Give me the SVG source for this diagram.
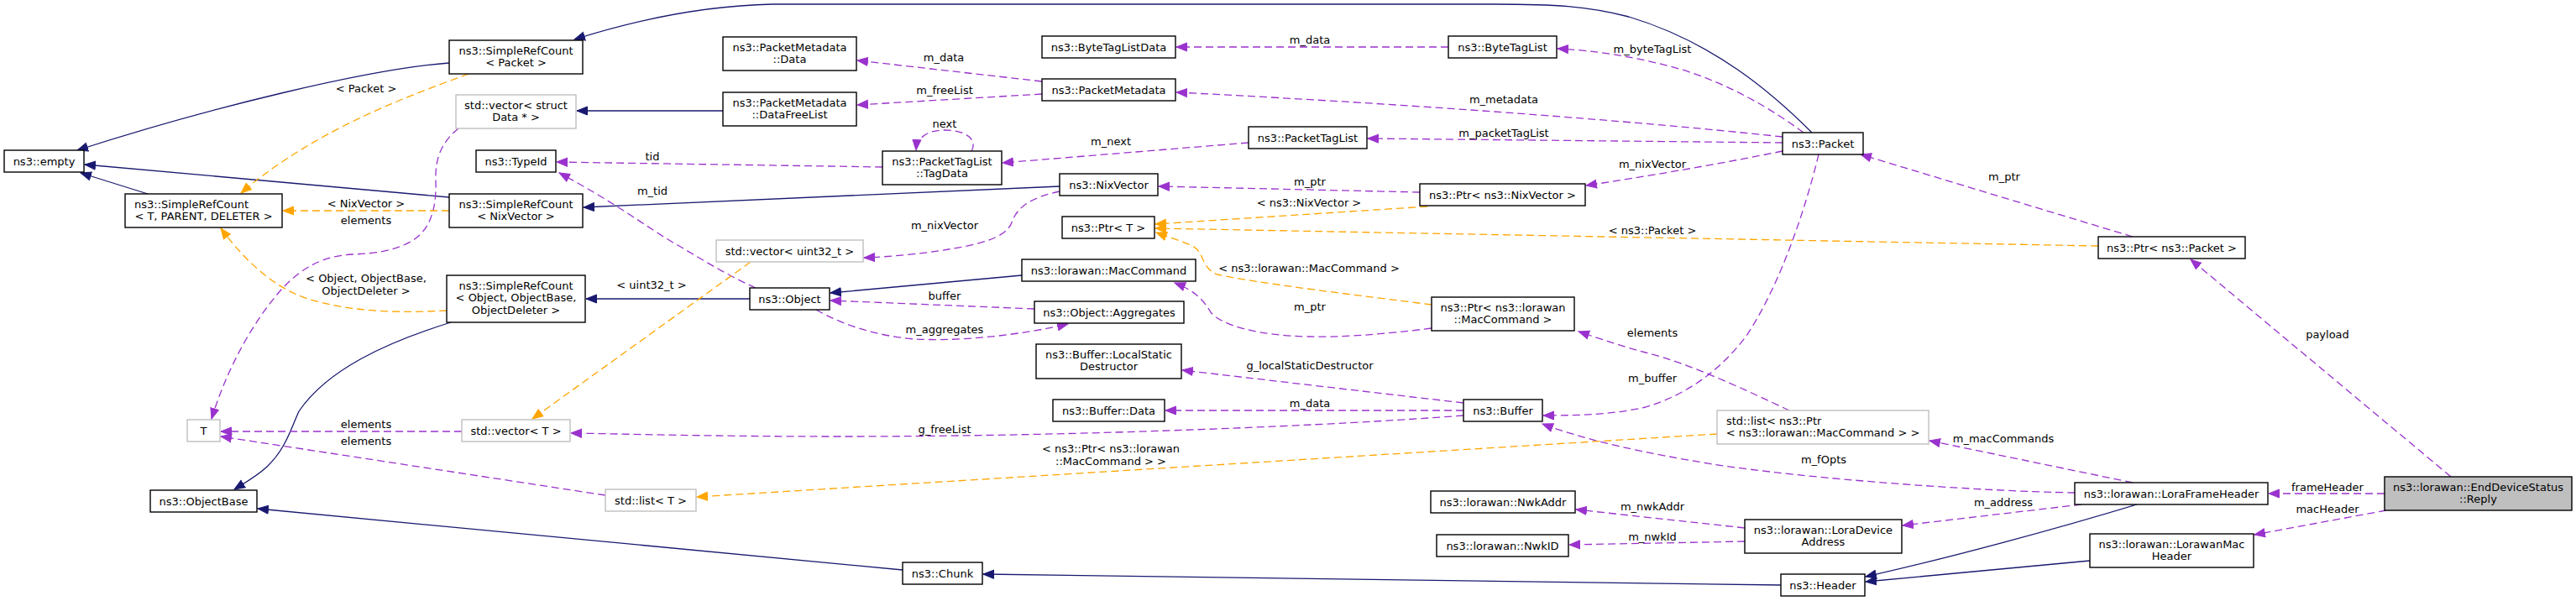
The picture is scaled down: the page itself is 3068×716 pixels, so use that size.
<svg xmlns="http://www.w3.org/2000/svg" width="3068" height="716" viewBox="0 0 3068 716">
<style>
.n rect{fill:#fff;stroke:#000;stroke-width:1.4}
.n.g rect{stroke:#bfbfbf}
.n.main rect{fill:#bfbfbf;stroke:#000}
text{font-family:"DejaVu Sans",Verdana,sans-serif;font-size:13px;fill:#000}
.n text{text-anchor:middle}
.n text.l{text-anchor:start}
.e path{fill:none;stroke-width:1.3}
.inh{stroke:#191970}
.use{stroke:#9a32cd;stroke-dasharray:9,5}
.tpl{stroke:#ffa500;stroke-dasharray:9,5}
.inh{marker-end:url(#an)}
.use{marker-end:url(#ap)}
.tpl{marker-end:url(#ao)}
.lb text{text-anchor:middle}
</style>
<defs>
<marker id="an" markerUnits="userSpaceOnUse" markerWidth="14" markerHeight="12" refX="13" refY="5.5" viewBox="0 0 14 11" orient="auto"><path d="M0.5,0.5 L13,5.5 L0.5,10.5 z" fill="#191970" stroke="#191970" stroke-width="1"/></marker>
<marker id="ap" markerUnits="userSpaceOnUse" markerWidth="14" markerHeight="12" refX="13" refY="5.5" viewBox="0 0 14 11" orient="auto"><path d="M0.5,0.5 L13,5.5 L0.5,10.5 z" fill="#9a32cd" stroke="#9a32cd" stroke-width="1"/></marker>
<marker id="ao" markerUnits="userSpaceOnUse" markerWidth="14" markerHeight="12" refX="13" refY="5.5" viewBox="0 0 14 11" orient="auto"><path d="M0.5,0.5 L13,5.5 L0.5,10.5 z" fill="#ffa500" stroke="#ffa500" stroke-width="1"/></marker>
</defs>
<rect width="3068" height="716" fill="#fff"/>
<g id="edges" class="e">
<path class="inh" d="M535,75 C440,82 250,128 92,179"/>
<path class="inh" d="M535,235 L101,196"/>
<path class="inh" d="M176,231 L96,206"/>
<path class="inh" d="M2158,158 C2110,110 2040,50 1940,20 C1890,7 1850,5 1780,5 L920,5 C830,7 750,26 684,47"/>
<path class="inh" d="M861,132 L687,132"/>
<path class="inh" d="M1262,222 L695,247"/>
<path class="inh" d="M893,356 L698,356"/>
<path class="inh" d="M1217,328 L989,349"/>
<path class="inh" d="M537,384 C460,408 390,440 356,490 C346,512 340,535 318,556 C305,568 292,575 279,583"/>
<path class="inh" d="M1075,679 L307,606"/>
<path class="inh" d="M2121,697 L1171,684"/>
<path class="inh" d="M2545,601 C2450,630 2320,665 2222,687"/>
<path class="inh" d="M2489,668 L2222,693"/>
<path class="use" d="M546,153 C525,170 518,190 519,215 C520,250 512,275 489,288 C470,298 450,302 420,303 C385,305 360,318 335,345 C300,385 270,440 252,499"/>
<path class="use" d="M550,514 L263,514"/>
<path class="use" d="M721,590 L263,520"/>
<path class="use" d="M1051,199 L663,193"/>
<path class="use" d="M900,343 C860,325 830,305 800,288 C770,270 730,240 666,206"/>
<path class="use" d="M1262,228 C1230,235 1212,245 1205,265 C1198,285 1160,292 1130,297 C1100,302 1060,306 1029,307"/>
<path class="use" d="M1232,368 L989,358"/>
<path class="use" d="M972,369 C1000,385 1040,400 1090,404 C1150,407 1220,398 1272,386"/>
<path class="use" d="M1241,97 L1021,72"/>
<path class="use" d="M1241,112 L1021,125"/>
<path class="use" d="M1157,180 C1165,166 1150,155 1125,155 C1103,155 1092,165 1091,179"/>
<path class="use" d="M1487,170 L1194,194"/>
<path class="use" d="M1725,56 L1401,56"/>
<path class="use" d="M2148,158 C2110,130 2060,100 2000,82 C1950,68 1900,60 1855,58"/>
<path class="use" d="M2123,163 C2050,155 1800,130 1401,110"/>
<path class="use" d="M2123,170 L1629,165"/>
<path class="use" d="M2123,180 C2050,195 1950,212 1889,221"/>
<path class="use" d="M1691,229 L1380,222"/>
<path class="use" d="M1705,391 C1650,398 1600,402 1560,401 C1500,400 1455,388 1442,372 C1432,355 1420,345 1399,337"/>
<path class="use" d="M2131,489 C2080,465 2010,432 1960,420 C1930,412 1910,405 1880,395"/>
<path class="use" d="M2166,184 C2150,250 2120,340 2080,400 C2050,440 2010,470 1960,485 C1920,494 1880,495 1838,495"/>
<path class="use" d="M1743,480 L1408,441"/>
<path class="use" d="M1743,489 L1388,489"/>
<path class="use" d="M1743,495 C1600,506 1300,520 1000,520 C850,520 750,517 680,516"/>
<path class="use" d="M2471,587 C2350,585 2150,570 2040,553 C1960,540 1890,525 1837,505"/>
<path class="use" d="M2540,575 L2298,525"/>
<path class="use" d="M2479,601 L2266,626"/>
<path class="use" d="M2078,629 L1877,607"/>
<path class="use" d="M2078,645 L1869,649"/>
<path class="use" d="M2540,282 L2216,184"/>
<path class="use" d="M2919,568 L2609,309"/>
<path class="use" d="M2840,588 L2702,588"/>
<path class="use" d="M2842,608 L2685,637"/>
<path class="tpl" d="M558,88 C500,110 380,150 287,230"/>
<path class="tpl" d="M535,251 L337,251"/>
<path class="tpl" d="M532,370 C480,373 420,372 370,357 C330,345 295,315 263,272"/>
<path class="tpl" d="M894,312 L634,499"/>
<path class="tpl" d="M1700,246 L1376,267"/>
<path class="tpl" d="M2499,293 L1376,272"/>
<path class="tpl" d="M1705,363 C1620,352 1500,338 1450,327 C1430,320 1435,300 1420,293 C1405,286 1390,282 1377,277"/>
<path class="tpl" d="M2045,517 L830,592"/>
<g class="lb">
<text x="436" y="109.5">&lt; Packet &gt;</text>
<text x="436" y="246.5">&lt; NixVector &gt;</text>
<text x="436" y="266.5">elements</text>
<text x="436" y="335.5">&lt; Object, ObjectBase,</text>
<text x="436" y="350.5">ObjectDeleter &gt;</text>
<text x="436" y="509.5">elements</text>
<text x="436" y="529.5">elements</text>
<text x="777" y="190.5">tid</text>
<text x="777" y="231.5">m_tid</text>
<text x="776" y="343.5">&lt; uint32_t &gt;</text>
<text x="1124" y="72.5">m_data</text>
<text x="1125" y="111.5">m_freeList</text>
<text x="1125" y="151.5">next</text>
<text x="1125" y="272.5">m_nixVector</text>
<text x="1125" y="356.5">buffer</text>
<text x="1125" y="396.5">m_aggregates</text>
<text x="1125" y="515.5">g_freeList</text>
<text x="1323" y="538.5">&lt; ns3::Ptr&lt; ns3::lorawan</text>
<text x="1323" y="553.5">::MacCommand &gt; &gt;</text>
<text x="1323" y="172.5">m_next</text>
<text x="1560" y="51.5">m_data</text>
<text x="1560" y="220.5">m_ptr</text>
<text x="1559" y="245.5">&lt; ns3::NixVector &gt;</text>
<text x="1559" y="323.5">&lt; ns3::lorawan::MacCommand &gt;</text>
<text x="1560" y="369.5">m_ptr</text>
<text x="1560" y="439.5">g_localStaticDestructor</text>
<text x="1560" y="484.5">m_data</text>
<text x="1791" y="122.5">m_metadata</text>
<text x="1791" y="162.5">m_packetTagList</text>
<text x="1968" y="62.5">m_byteTagList</text>
<text x="1968" y="199.5">m_nixVector</text>
<text x="1968" y="278.5">&lt; ns3::Packet &gt;</text>
<text x="1968" y="400.5">elements</text>
<text x="1968" y="454.5">m_buffer</text>
<text x="1968" y="607.5">m_nwkAddr</text>
<text x="1968" y="643.5">m_nwkId</text>
<text x="2172" y="551.5">m_fOpts</text>
<text x="2387" y="214.5">m_ptr</text>
<text x="2386" y="526.5">m_macCommands</text>
<text x="2386" y="602.5">m_address</text>
<text x="2772" y="402.5">payload</text>
<text x="2772" y="584.5">frameHeader</text>
<text x="2772" y="610.5">macHeader</text>
</g>
</g>
<g id="n_empty" class="n"><rect x="5" y="179" width="95" height="26"/><text x="52.5" y="196.5">ns3::empty</text></g>
<g id="n_src_packet" class="n"><rect x="535" y="48" width="159" height="40"/><text x="614.5" y="64.5">ns3::SimpleRefCount</text><text x="614.5" y="79">&lt; Packet &gt;</text></g>
<g id="n_src_tpd" class="n"><rect x="149" y="231" width="187" height="40"/><text class="l" x="160" y="247.5">ns3::SimpleRefCount</text><text x="242.5" y="262">&lt; T, PARENT, DELETER &gt;</text></g>
<g id="n_vec_data" class="n g"><rect x="543" y="113" width="143" height="40"/><text x="614.5" y="129.5">std::vector&lt; struct</text><text x="614.5" y="144">Data * &gt;</text></g>
<g id="n_typeid" class="n"><rect x="567" y="179" width="95" height="26"/><text x="614.5" y="196.5">ns3::TypeId</text></g>
<g id="n_src_nix" class="n"><rect x="535" y="231" width="159" height="40"/><text x="614.5" y="247.5">ns3::SimpleRefCount</text><text x="614.5" y="262">&lt; NixVector &gt;</text></g>
<g id="n_src_obj" class="n"><rect x="532" y="328" width="165" height="56"/><text x="614.5" y="344.5">ns3::SimpleRefCount</text><text x="614.5" y="359">&lt; Object, ObjectBase,</text><text x="614.5" y="373.5">ObjectDeleter &gt;</text></g>
<g id="n_T" class="n g"><rect x="223" y="500" width="39" height="26"/><text x="242.5" y="517.5">T</text></g>
<g id="n_objectbase" class="n"><rect x="179" y="584" width="127" height="26"/><text x="242.5" y="601.5">ns3::ObjectBase</text></g>
<g id="n_vec_T" class="n g"><rect x="550" y="500" width="129" height="26"/><text x="614.5" y="517.5">std::vector&lt; T &gt;</text></g>
<g id="n_list_T" class="n g"><rect x="721" y="583" width="108" height="26"/><text x="775" y="600.5">std::list&lt; T &gt;</text></g>
<g id="n_pm_data" class="n"><rect x="861" y="44" width="159" height="40"/><text x="940.5" y="60.5">ns3::PacketMetadata</text><text x="940.5" y="75">::Data</text></g>
<g id="n_pm_dfl" class="n"><rect x="861" y="110" width="159" height="40"/><text x="940.5" y="126.5">ns3::PacketMetadata</text><text x="940.5" y="141">::DataFreeList</text></g>
<g id="n_vec_u32" class="n g"><rect x="853" y="286" width="175" height="26"/><text x="940.5" y="303.5">std::vector&lt; uint32_t &gt;</text></g>
<g id="n_object" class="n"><rect x="893" y="343" width="95" height="26"/><text x="940.5" y="360.5">ns3::Object</text></g>
<g id="n_btl_data" class="n"><rect x="1241" y="43" width="159" height="26"/><text x="1320.5" y="60.5">ns3::ByteTagListData</text></g>
<g id="n_pmeta" class="n"><rect x="1241" y="94" width="159" height="26"/><text x="1320.5" y="111.5">ns3::PacketMetadata</text></g>
<g id="n_tagdata" class="n"><rect x="1051" y="180" width="142" height="40"/><text x="1122" y="196.5">ns3::PacketTagList</text><text x="1122" y="211">::TagData</text></g>
<g id="n_nixvector" class="n"><rect x="1262" y="207" width="117" height="26"/><text x="1320.5" y="224.5">ns3::NixVector</text></g>
<g id="n_ptr_T" class="n"><rect x="1265" y="258" width="110" height="26"/><text x="1320" y="275.5">ns3::Ptr&lt; T &gt;</text></g>
<g id="n_maccommand" class="n"><rect x="1217" y="309" width="207" height="26"/><text x="1320.5" y="326.5">ns3::lorawan::MacCommand</text></g>
<g id="n_aggregates" class="n"><rect x="1232" y="359" width="178" height="26"/><text x="1321" y="376.5">ns3::Object::Aggregates</text></g>
<g id="n_lsd" class="n"><rect x="1234" y="410" width="173" height="41"/><text x="1320.5" y="426.5">ns3::Buffer::LocalStatic</text><text x="1320.5" y="441">Destructor</text></g>
<g id="n_buffer_data" class="n"><rect x="1254" y="476" width="133" height="26"/><text x="1320.5" y="493.5">ns3::Buffer::Data</text></g>
<g id="n_chunk" class="n"><rect x="1075" y="670" width="95" height="26"/><text x="1122.5" y="687.5">ns3::Chunk</text></g>
<g id="n_ptl" class="n"><rect x="1487" y="151" width="141" height="26"/><text x="1557.5" y="168.5">ns3::PacketTagList</text></g>
<g id="n_btl" class="n"><rect x="1725" y="43" width="129" height="26"/><text x="1789.5" y="60.5">ns3::ByteTagList</text></g>
<g id="n_ptr_nix" class="n"><rect x="1691" y="219" width="197" height="26"/><text x="1789.5" y="236.5">ns3::Ptr&lt; ns3::NixVector &gt;</text></g>
<g id="n_ptr_mc" class="n"><rect x="1705" y="354" width="170" height="40"/><text x="1790" y="370.5">ns3::Ptr&lt; ns3::lorawan</text><text x="1790" y="385">::MacCommand &gt;</text></g>
<g id="n_buffer" class="n"><rect x="1743" y="476" width="94" height="26"/><text x="1790" y="493.5">ns3::Buffer</text></g>
<g id="n_nwkaddr" class="n"><rect x="1704" y="585" width="172" height="26"/><text x="1790" y="602.5">ns3::lorawan::NwkAddr</text></g>
<g id="n_nwkid" class="n"><rect x="1711" y="637" width="157" height="26"/><text x="1789.5" y="654.5">ns3::lorawan::NwkID</text></g>
<g id="n_packet" class="n"><rect x="2123" y="158" width="96" height="26"/><text x="2171" y="175.5">ns3::Packet</text></g>
<g id="n_ptr_packet" class="n"><rect x="2499" y="282" width="175" height="26"/><text x="2586.5" y="299.5">ns3::Ptr&lt; ns3::Packet &gt;</text></g>
<g id="n_list_ptr_mc" class="n g"><rect x="2045" y="489" width="252" height="40"/><text class="l" x="2056" y="505.5">std::list&lt; ns3::Ptr</text><text x="2171" y="520">&lt; ns3::lorawan::MacCommand &gt; &gt;</text></g>
<g id="n_lfh" class="n"><rect x="2471" y="575" width="230" height="26"/><text x="2586" y="592.5">ns3::lorawan::LoraFrameHeader</text></g>
<g id="n_lda" class="n"><rect x="2078" y="619" width="187" height="40"/><text x="2171.5" y="635.5">ns3::lorawan::LoraDevice</text><text x="2171.5" y="650">Address</text></g>
<g id="n_header" class="n"><rect x="2121" y="684" width="100" height="26"/><text x="2171" y="701.5">ns3::Header</text></g>
<g id="n_lmh" class="n"><rect x="2489" y="636" width="195" height="40"/><text x="2586.5" y="652.5">ns3::lorawan::LorawanMac</text><text x="2586.5" y="667">Header</text></g>
<g id="n_reply" class="n main"><rect x="2840" y="568" width="223" height="40"/><text x="2951.5" y="584.5">ns3::lorawan::EndDeviceStatus</text><text x="2951.5" y="599">::Reply</text></g>
</svg>
